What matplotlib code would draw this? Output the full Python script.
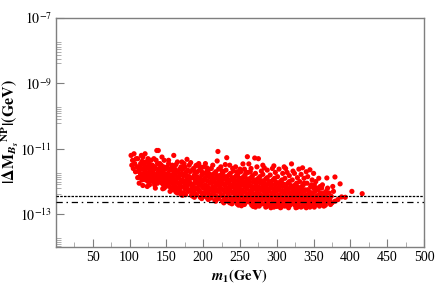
import matplotlib
matplotlib.use("Agg")
import matplotlib.pyplot as plt
import numpy as np

# ---- data: (m1 [GeV], log10 |dM_Bs^NP| [GeV]) ----
pts_100 = [(102,-11.2),(103,-11.5),(104,-11.35),(105,-11.6),(106,-11.15),(107,-11.45),
           (108,-11.7),(109,-11.3),(110,-11.55)]
pts_110 = [(111,-11.3),(112,-11.55),(113,-11.7),(114,-11.85),(115,-11.45),(116,-11.62),(117,-11.95),
           (118,-11.25),(119,-11.75),(120,-11.5),(111,-11.88),(113,-12.05),(115,-11.78),(117,-11.38),
           (119,-11.6),(112,-11.68),(116,-11.9),(118,-12.12),(114,-11.55),(120,-11.82),(116,-11.2)]
pts_120 = [(121,-11.15),(122,-11.4),(123,-11.6),(124,-11.8),(125,-12.0),(126,-11.5),(127,-11.7),
           (128,-11.9),(129,-11.35),(130,-11.6),(121,-11.72),(122,-11.95),(124,-11.55),(125,-11.3),
           (126,-11.85),(127,-12.1),(128,-11.65),(129,-11.78),(123,-11.88),(130,-11.98),(124,-12.15),
           (126,-11.42)]
pts_130 = [(131,-11.5),(132,-11.7),(133,-11.9),(134,-12.1),(135,-11.6),(136,-11.8),(137,-12.0),
           (138,-11.45),(139,-11.7),(140,-11.9),(131,-11.82),(133,-11.62),(135,-12.2),(136,-11.35),
           (137,-11.05),(139,-11.05),(134,-11.55),(138,-12.05),(140,-11.6),(132,-12.0),(136,-11.95),
           (139,-11.85),(133,-11.3)]
pts_140 = [(141,-11.45),(142,-11.65),(143,-11.85),(144,-12.05),(145,-12.22),(146,-11.55),(147,-11.75),
           (148,-11.95),(149,-12.15),(150,-11.6),(141,-11.78),(142,-12.0),(143,-11.5),(144,-11.7),
           (145,-11.9),(146,-12.1),(147,-11.35),(148,-11.62),(149,-11.82),(150,-12.02),(144,-11.25),
           (147,-12.2)]
pts_150 = [(151,-11.55),(152,-11.75),(153,-11.95),(154,-12.15),(155,-12.3),(156,-11.65),(157,-11.85),
           (158,-12.05),(159,-12.25),(160,-11.7),(151,-11.88),(152,-12.08),(153,-11.45),(154,-11.62),
           (155,-11.8),(156,-12.0),(157,-12.2),(158,-11.5),(159,-11.92),(160,-12.12),(160,-11.2),
           (153,-11.35),(157,-11.58)]
pts_160 = [(161,-11.6),(162,-11.8),(163,-12.0),(164,-12.2),(165,-12.35),(166,-11.7),(167,-11.9),
           (168,-12.1),(169,-12.3),(170,-11.55),(161,-11.95),(162,-12.15),(163,-11.48),(164,-11.68),
           (165,-11.85),(166,-12.05),(167,-12.25),(168,-11.62),(169,-11.8),(170,-12.0),(165,-11.4),
           (170,-12.4),(163,-12.32)]
pts_170 = [(171,-11.4),(172,-11.62),(173,-11.82),(174,-12.02),(175,-12.22),(176,-12.4),(177,-11.7),
           (178,-11.9),(179,-12.1),(180,-12.3),(171,-11.75),(172,-11.95),(173,-12.15),(174,-12.35),
           (175,-11.55),(176,-11.8),(177,-12.0),(178,-12.2),(179,-11.65),(180,-11.85),(174,-11.45),
           (178,-11.32),(180,-12.05),(172,-12.42)]
pts_180 = [(181,-11.5),(182,-11.7),(183,-11.9),(184,-12.1),(185,-12.3),(186,-12.45),(187,-11.6),
           (188,-11.8),(189,-12.0),(190,-12.2),(181,-11.85),(182,-12.05),(183,-12.25),(184,-12.42),
           (185,-11.65),(186,-11.88),(187,-12.08),(188,-12.28),(189,-11.72),(190,-11.95),(183,-11.42),
           (188,-12.48),(190,-11.52),(185,-12.15)]
pts_190 = [(191,-11.5),(192,-11.7),(193,-11.9),(194,-12.1),(195,-12.3),(196,-12.48),(197,-11.6),
           (198,-11.8),(199,-12.0),(200,-12.2),(191,-12.4),(192,-11.85),(193,-12.05),(194,-12.25),
           (195,-11.65),(196,-11.92),(197,-12.12),(198,-12.35),(199,-11.72),(200,-11.95),(194,-11.45),
           (198,-12.52),(200,-12.42),(196,-11.55)]
pts_200 = [(201,-11.55),(202,-11.75),(203,-11.95),(204,-12.15),(205,-12.35),(206,-12.52),(207,-11.65),
           (208,-11.85),(209,-12.05),(210,-12.25),(201,-12.45),(202,-11.9),(203,-12.1),(204,-12.3),
           (205,-11.7),(206,-11.98),(207,-12.18),(208,-12.4),(209,-11.78),(210,-12.0),(203,-11.45),
           (207,-12.55),(209,-12.48),(205,-11.58),(201,-12.2)]
pts_210 = [(211,-11.6),(212,-11.8),(213,-12.0),(214,-12.2),(215,-12.4),(216,-12.58),(217,-11.7),
           (218,-11.9),(219,-12.1),(220,-12.3),(211,-12.5),(212,-11.95),(213,-12.15),(214,-12.35),
           (215,-11.75),(216,-12.02),(217,-12.22),(218,-12.45),(219,-11.82),(220,-12.05),(220,-11.08),
           (219,-11.37),(213,-11.5),(217,-12.6),(215,-12.25)]
pts_220 = [(221,-11.62),(222,-11.82),(223,-12.02),(224,-12.22),(225,-12.42),(226,-12.6),(227,-11.72),
           (228,-11.92),(229,-12.12),(230,-12.32),(221,-12.52),(222,-11.98),(223,-12.18),(224,-12.38),
           (225,-11.78),(226,-12.05),(227,-12.25),(228,-12.48),(229,-11.85),(230,-12.08),(224,-11.55),
           (228,-12.65),(230,-11.48),(222,-12.28),(226,-11.68)]
pts_230 = [(231,-11.65),(232,-11.85),(233,-12.05),(234,-12.25),(235,-12.45),(236,-12.65),(237,-11.75),
           (238,-11.95),(239,-12.15),(240,-12.35),(231,-12.55),(232,-12.0),(233,-12.2),(234,-12.4),
           (235,-11.8),(236,-12.08),(237,-12.28),(238,-12.5),(239,-11.88),(240,-12.1),(232,-11.27),
           (236,-11.5),(239,-12.68),(233,-12.6),(240,-11.6)]
pts_240 = [(241,-11.68),(242,-11.88),(243,-12.08),(244,-12.28),(245,-12.48),(246,-12.68),(247,-11.78),
           (248,-11.98),(249,-12.18),(250,-12.38),(241,-12.58),(242,-12.02),(243,-12.22),(244,-12.42),
           (245,-11.82),(246,-12.1),(247,-12.3),(248,-12.52),(249,-11.9),(250,-12.12),(244,-11.55),
           (248,-12.72),(250,-11.62),(242,-12.35),(246,-11.7)]
pts_250 = [(251,-11.7),(252,-11.9),(253,-12.1),(254,-12.3),(255,-12.5),(256,-12.7),(257,-11.8),
           (258,-12.0),(259,-12.2),(260,-12.4),(251,-12.6),(252,-12.05),(253,-12.25),(254,-12.45),
           (255,-11.85),(256,-12.12),(257,-12.32),(258,-12.55),(259,-11.92),(260,-12.15),(254,-11.46),
           (260,-11.24),(256,-11.62),(252,-12.74),(258,-11.72)]
pts_260 = [(261,-11.72),(262,-11.92),(263,-12.12),(264,-12.32),(265,-12.52),(266,-12.72),(267,-11.82),
           (268,-12.02),(269,-12.22),(270,-12.42),(261,-12.62),(262,-12.08),(263,-12.28),(264,-12.48),
           (265,-11.88),(266,-12.15),(267,-12.35),(268,-12.58),(269,-11.95),(270,-12.18),(262,-11.46),
           (270,-11.28),(265,-11.6),(268,-12.76),(264,-11.7)]
pts_270 = [(271,-11.75),(272,-11.95),(273,-12.15),(274,-12.35),(275,-12.55),(276,-12.75),(277,-11.85),
           (278,-12.05),(279,-12.25),(280,-12.45),(271,-12.65),(272,-12.1),(273,-12.3),(274,-12.5),
           (275,-11.9),(276,-12.18),(277,-12.38),(278,-12.6),(279,-11.98),(280,-12.2),(275,-11.3),
           (273,-11.55),(279,-11.68),(271,-12.78),(277,-12.7)]
pts_280 = [(281,-11.78),(282,-11.98),(283,-12.18),(284,-12.38),(285,-12.58),(286,-12.76),(287,-11.88),
           (288,-12.08),(289,-12.28),(290,-12.48),(281,-12.68),(282,-12.12),(283,-12.32),(284,-12.52),
           (285,-11.92),(286,-12.2),(287,-12.4),(288,-12.62),(289,-12.0),(290,-12.22),(283,-11.58),
           (287,-11.65),(290,-12.72),(285,-12.78),(281,-11.5)]
pts_290 = [(291,-11.8),(292,-12.0),(293,-12.2),(294,-12.4),(295,-12.6),(296,-12.78),(297,-11.9),
           (298,-12.1),(299,-12.3),(300,-12.5),(291,-12.7),(292,-12.15),(293,-12.35),(294,-12.55),
           (295,-11.95),(296,-12.22),(297,-12.42),(298,-12.65),(299,-12.02),(300,-12.25),(294,-11.6),
           (298,-11.72),(300,-12.76),(292,-12.8),(296,-11.52)]
pts_300 = [(301,-11.85),(302,-12.05),(303,-12.25),(304,-12.45),(305,-12.65),(306,-12.78),(307,-11.95),
           (308,-12.15),(309,-12.35),(310,-12.55),(301,-12.72),(302,-12.2),(303,-12.4),(304,-12.6),
           (305,-12.0),(306,-12.28),(307,-12.48),(308,-12.7),(309,-12.08),(310,-12.3),(303,-11.62),
           (308,-11.75),(310,-11.55),(305,-12.8)]
pts_310 = [(311,-11.9),(312,-12.1),(313,-12.3),(314,-12.5),(315,-12.7),(316,-12.8),(317,-12.0),
           (318,-12.2),(319,-12.4),(320,-12.6),(311,-12.75),(312,-12.25),(313,-12.45),(314,-12.65),
           (315,-12.05),(316,-12.32),(317,-12.52),(318,-12.72),(319,-12.12),(320,-12.35),(320,-11.46),
           (314,-11.72),(317,-11.82),(312,-11.6)]
pts_320 = [(321,-11.95),(322,-12.15),(323,-12.35),(324,-12.55),(325,-12.72),(326,-12.8),(327,-12.05),
           (328,-12.25),(329,-12.45),(330,-12.65),(321,-12.6),(322,-12.3),(323,-12.5),(324,-12.7),
           (325,-12.1),(326,-12.38),(327,-12.58),(328,-12.78),(329,-12.18),(330,-12.4),(324,-11.75),
           (328,-11.88),(330,-11.62),(322,-11.68)]
pts_330 = [(331,-12.0),(332,-12.2),(333,-12.4),(334,-12.6),(335,-12.75),(336,-12.1),(337,-12.3),
           (338,-12.5),(339,-12.7),(340,-12.8),(331,-12.35),(332,-12.55),(333,-12.78),(334,-12.15),
           (335,-12.42),(336,-12.62),(337,-12.05),(338,-12.25),(339,-12.45),(340,-12.6),(333,-11.78),
           (337,-11.9),(340,-11.7),(335,-11.58)]
pts_340 = [(341,-12.05),(342,-12.25),(343,-12.45),(344,-12.65),(345,-12.78),(346,-12.15),(347,-12.35),
           (348,-12.55),(349,-12.72),(350,-12.2),(341,-12.4),(342,-12.6),(343,-12.75),(344,-12.3),
           (345,-12.5),(346,-12.68),(347,-12.1),(348,-12.4),(349,-12.52),(350,-12.62),(345,-11.64),
           (342,-11.85),(348,-11.95),(350,-11.75)]
pts_350 = [(351,-12.1),(352,-12.3),(353,-12.5),(354,-12.7),(355,-12.2),(356,-12.42),(357,-12.6),
           (358,-12.75),(359,-12.35),(360,-12.55),(352,-12.65),(354,-12.45),(356,-12.25),(358,-12.5),
           (360,-12.7),(353,-12.0),(357,-11.9),(359,-12.15),(351,-12.78)]
pts_360 = [(361,-12.2),(362,-12.45),(363,-12.65),(364,-12.35),(365,-12.55),(366,-12.72),(367,-12.3),
           (368,-11.89),(369,-12.5),(370,-12.62),(362,-12.1),(366,-12.4),(369,-12.2),(364,-12.75)]
pts_370 = [(371,-12.35),(372,-12.55),(374,-12.45),(375,-12.65),(377,-12.3),(379,-11.86),(379,-12.6),
           (376,-12.15),(373,-12.7)]
pts_380 = [(386,-12.07),(388,-12.47),(383,-12.55),(393,-12.48),(402,-12.3),(416,-12.37)]

# extra points filling the dense core (between the ones above)
pts_core = [(118,-11.42),(123,-11.75),(128,-11.52),(134,-11.78),(138,-11.88),(143,-11.68),
            (148,-11.8),(152,-11.92),(156,-11.82),(161,-11.78),(166,-11.88),(168,-12.2),
            (172,-11.78),(176,-12.1),(181,-12.0),(186,-12.15),(189,-12.38),(192,-12.2),
            (197,-12.0),(199,-12.45),(202,-12.35),(206,-11.82),(208,-12.28),(212,-12.4),
            (214,-11.9),(216,-12.3),(218,-12.1),(222,-12.12),(224,-11.92),(227,-12.42),
            (229,-12.55),(232,-12.3),(234,-11.95),(237,-12.18),(238,-12.6),(242,-12.5),
            (243,-11.95),(245,-12.62),(247,-12.15),(249,-12.45),(252,-12.35),(253,-11.98),
            (255,-12.62),(257,-12.15),(259,-12.5),(262,-12.4),(263,-12.0),(265,-12.65),
            (267,-12.22),(269,-12.55),(272,-12.4),(273,-12.02),(275,-12.68),(277,-12.2),
            (279,-12.55),(282,-12.45),(283,-12.05),(285,-12.68),(287,-12.25),(289,-12.55),
            (292,-12.45),(293,-12.08),(295,-12.7),(297,-12.25),(299,-12.6),(302,-12.5),
            (304,-12.12),(306,-12.6),(307,-12.3),(309,-12.65),(312,-12.55),(313,-12.18),
            (316,-12.6),(318,-12.35),(319,-12.68),(322,-12.45),(324,-12.22),(326,-12.6),
            (327,-12.35),(329,-12.72),(332,-12.42),(334,-12.3),(336,-12.52),(338,-12.7),
            (341,-12.55),(344,-12.45),(346,-12.6),(349,-12.35),(354,-12.58),(356,-12.68)]

all_bins = [pts_100, pts_110, pts_120, pts_130, pts_140, pts_150, pts_160, pts_170, pts_180,
            pts_190, pts_200, pts_210, pts_220, pts_230, pts_240, pts_250, pts_260, pts_270,
            pts_280, pts_290, pts_300, pts_310, pts_320, pts_330, pts_340, pts_350, pts_360,
            pts_370, pts_380, pts_core]

bound_dotted = 3.5e-13
bound_dashdot = 2.3e-13

x_major = [50, 100, 150, 200, 250, 300, 350, 400, 450, 500]
x_minor = [25, 75, 125, 175, 225, 275, 325, 375, 425, 475]
y_major_exp = [-7, -9, -11, -13]
y_minor_exp = [-7.742, -7.803, -7.876, -7.947, -8.029, -8.121, -8.252, -8.383,
               -9.727, -9.788, -9.849, -9.910, -9.992, -10.093, -10.215,
               -11.742, -11.794, -11.864, -11.925, -11.998, -12.078, -12.182, -12.383,
               -13.718, -13.779, -13.840, -13.901, -13.96]

# ---- figure ----
plt.rcParams['mathtext.fontset'] = 'stix'
plt.rcParams['font.family'] = ['Liberation Serif', 'DejaVu Serif']

m1 = np.array([p[0] for b in all_bins for p in b], dtype=float)
dm = 10.0 ** np.array([p[1] for b in all_bins for p in b], dtype=float)

fig = plt.figure(figsize=(4.36, 2.91), dpi=100)
ax = fig.add_axes([56/436, 1-247/291, (424-56)/436, (247-18)/291])

ax.scatter(m1, dm, s=14, color='#ff0000', edgecolors='none', zorder=3)
ax.axhline(bound_dotted, color='black', lw=0.9, ls=(0, (2.0, 1.0)), zorder=4)
ax.axhline(bound_dashdot, color='black', lw=0.9, ls=(0, (5, 3, 1.2, 3)), zorder=4)

ax.set_yscale('log')
ax.set_xlim(0, 500)
ax.set_ylim(1e-14, 1e-7)

ax.set_xticks(x_major)
ax.set_xticks(x_minor, minor=True)
ax.set_xticklabels([str(v) for v in x_major])
ax.set_yticks([10.0**e for e in y_major_exp])
ax.set_yticks([10.0**e for e in y_minor_exp], minor=True)
ax.set_yticklabels([r'$10^{%d}$' % e for e in y_major_exp])
ax.yaxis.set_minor_formatter(matplotlib.ticker.NullFormatter())

gray = '#7f7f7f'
for s in ax.spines.values():
    s.set_color(gray)
    s.set_linewidth(1.0)
ax.tick_params(axis='both', which='major', direction='in', length=6, width=0.8,
               color=gray, labelsize=10, pad=3, labelcolor='black')
ax.tick_params(axis='both', which='minor', direction='in', length=3.6, width=0.6,
               color='#a0a0a0')
ax.tick_params(top=False, right=False, which='both')

ax.set_xlabel(r'$\mathbfit{m}_{\mathbf{1}}\mathbf{(GeV)}$', fontsize=10.5, labelpad=2)
fig.text(10/436, 1-132/291,
         r'$\mathbf{|\Delta M}_{\mathbfit{B_s}}{}^{\mathbf{NP}}\mathbf{|(GeV)}$',
         fontsize=11.5, rotation=90, ha='center', va='center')

fig.savefig('out.png', dpi=100)
